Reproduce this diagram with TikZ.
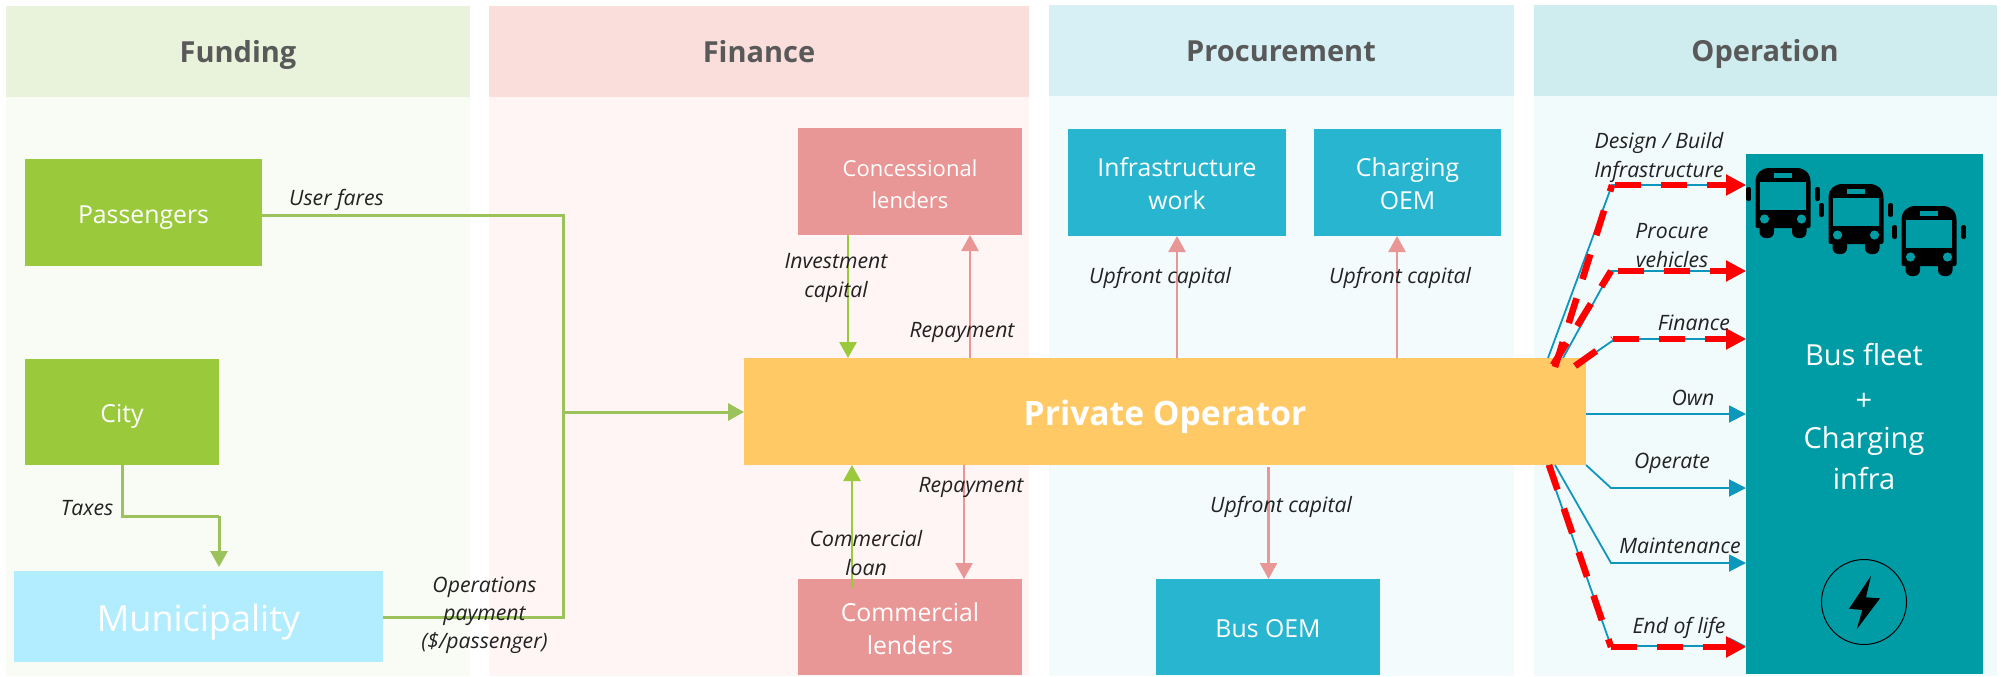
\documentclass[tikz,border=0pt]{standalone}
\usepackage{fontspec}
\setmainfont{Open Sans}
\usetikzlibrary{arrows.meta}
\definecolor{hFund}{HTML}{E9F3DB}\definecolor{bFund}{HTML}{F9FBF5}
\definecolor{hFin}{HTML}{F9DEDC}\definecolor{bFin}{HTML}{FEF5F4}
\definecolor{hProc}{HTML}{D6F0F5}\definecolor{bProc}{HTML}{F3FBFD}
\definecolor{hOp}{HTML}{CFECEE}\definecolor{bOp}{HTML}{F2FBFB}
\definecolor{cGreen}{HTML}{9ACA3C}\definecolor{cPink}{HTML}{E99696}
\definecolor{cTeal}{HTML}{28B5CF}\definecolor{cDark}{HTML}{009CA6}
\definecolor{cOrange}{HTML}{FFC966}\definecolor{cSky}{HTML}{B2EDFF}
\definecolor{lGreen}{HTML}{9BC25B}\definecolor{lBlue}{HTML}{0E97BC}
\definecolor{cHead}{HTML}{595959}\definecolor{cLab}{HTML}{222222}
\newcommand{\capc}[1]{\rule{0pt}{.85em}\raisebox{0pt}[0pt][0pt]{#1}}
\tikzset{
  x=0.5pt,y=-0.5pt,
  sz/.style 2 args={minimum width=#1*0.5pt,minimum height=#2*0.5pt},
  panel/.style={rectangle,inner sep=0pt,outer sep=0pt,draw=none},
  headtext/.style={panel,text=cHead,font=\fontsize{14.5}{17}\selectfont\bfseries},
  actor/.style={panel,text=white,align=center,font=\fontsize{12.4}{16.5}\selectfont},
  lab/.style={inner sep=0pt,outer sep=0pt,text=cLab,align=center,font=\fontsize{10.6}{14.5}\selectfont\itshape},
  gline/.style={draw=lGreen,line width=1.5pt},
  garrow/.style={gline,-{Triangle[length=8pt,width=8.5pt]}},
  barrow/.style={draw=cGreen,line width=1.4pt,-{Triangle[length=8pt,width=8.5pt]}},
  parrow/.style={draw=cPink,line width=1.2pt,-{Triangle[length=8pt,width=8.5pt]}},
  oparrow/.style={draw=lBlue,line width=0.9pt,-{Triangle[length=8.5pt,width=8.5pt]}},
  redline/.style={draw=red,line width=3.3pt,dash pattern=on 13pt off 10pt},
  redarrow/.style={redline,-{Triangle[length=10pt,width=10pt]}},
}
\newcommand{\busicon}[2]{%
  \begin{scope}[shift={(#1,#2)}]
    \fill[black,rounded corners=1pt] (-9.4,19) rectangle (-4.6,33);
    \fill[black,rounded corners=1pt] (59.6,19) rectangle (64.4,33);
    \fill[black,rounded corners=3pt] (4,50) rectangle (18.5,70);
    \fill[black,rounded corners=3pt] (36.5,50) rectangle (51,70);
    \fill[black] (0,14) .. controls (0,5) and (6,0) .. (14,0) -- (41,0) .. controls (49,0) and (55,5) .. (55,14) -- (55,58) .. controls (55,59) and (54,60) .. (53,60) -- (2,60) .. controls (1,60) and (0,59) .. (0,58) -- cycle;
    \fill[cDark] (4.5,14) rectangle (50.5,42);
    \fill[cDark] (18.5,4.5) rectangle (36.5,9.5);
    \fill[cDark] (9,51) circle (4.6);
    \fill[cDark] (46,51) circle (4.6);
  \end{scope}}
\begin{document}
\begin{tikzpicture}
\useasboundingbox (0,0) rectangle (2001,676);
% panels
\node[panel,fill=bFund,sz={464}{580}] (bodyFund) at (238,386) {};
\node[panel,fill=hFund,sz={464}{91}] (headFund) at (238,51.5) {};
\node[panel,fill=bFin,sz={540}{580}] (bodyFin) at (759,386) {};
\node[panel,fill=hFin,sz={540}{91}] (headFin) at (759,51.5) {};
\node[panel,fill=bProc,sz={465}{580}] (bodyProc) at (1281.5,386) {};
\node[panel,fill=hProc,sz={465}{91}] (headProc) at (1281.5,50.5) {};
\node[panel,fill=bOp,sz={463}{580}] (bodyOp) at (1765.5,386) {};
\node[panel,fill=hOp,sz={463}{91}] (headOp) at (1765.5,50.5) {};
\node[headtext] (tFund) at (238,50) {\capc{Funding}};
\node[headtext] (tFin) at (759,50) {\capc{Finance}};
\node[headtext] (tProc) at (1281,49) {\capc{Procurement}};
\node[headtext] (tOp) at (1765,49) {\capc{Operation}};
% boxes
\node[actor,fill=cGreen,sz={237}{107}] (pass) at (143.5,212.5) {\capc{Passengers}};
\node[actor,fill=cGreen,sz={194}{106}] (city) at (122,412) {\capc{City}};
\node[actor,fill=cSky,sz={369}{91},font=\fontsize{18}{20}\selectfont] (muni) at (198.5,616.5) {\capc{Municipality}};
\node[actor,fill=cPink,sz={224}{107}] (conc) at (910,181.5) {};
\node[inner sep=0pt,outer sep=0pt,text=white,align=center,font=\fontsize{11}{16}\selectfont] (conctext) at (910,183.5) {\capc{Concessional}\\\capc{lenders}};
\node[actor,fill=cPink,sz={224}{96}] (comm) at (910,627) {\capc{Commercial}\\\capc{lenders}};
\node[actor,fill=cTeal,sz={218}{107}] (infra) at (1177,182.5) {\capc{Infrastructure}\\\capc{work}};
\node[actor,fill=cTeal,sz={187}{107}] (chg) at (1407.5,182.5) {\capc{Charging}\\\capc{OEM}};
\node[actor,fill=cTeal,sz={224}{96}] (busoem) at (1268,627) {\capc{Bus OEM}};
\node[panel,fill=cOrange,text=white,sz={842}{107},font=\fontsize{16.8}{18}\selectfont\bfseries] (op) at (1165,411.5) {\capc{Private Operator}};
\node[panel,fill=cDark,sz={237}{520}] (fleet) at (1864.5,414) {};
\node[inner sep=0pt,outer sep=0pt,text=white,align=center,font=\fontsize{14.5}{20.7}\selectfont] (fleettext) at (1864,415) {\capc{Bus fleet}\\\raisebox{-2pt}{+}\\Charging\\\capc{infra}};
% icons
\busicon{1755.5}{168}
\busicon{1828.5}{184}
\busicon{1901.5}{206}
\node[circle,draw=black,line width=0.5pt,inner sep=0pt,minimum size=42.5pt] (bolt) at (1864,602) {};
\fill[black] (1871,575.7) -- (1849,608.7) -- (1862.3,610) -- (1856.7,629.3) -- (1880,598.3) -- (1866,597.3) -- cycle;
% funding connectors
\coordinate (j1) at (563,215.5);
\coordinate (j2) at (563,617);
\coordinate (j3) at (563,412);
\draw[gline] (pass.east|-j1) -- (j1) -- (j2) -- (muni.east|-j2);
\draw[garrow] (j3) -- (op.west|-j3);
\coordinate (t1) at (122.5,516);
\coordinate (t2) at (219,516);
\draw[gline] (city.south-|t1) -- (t1) -- (t2);
\coordinate (t3) at (219,567);
\draw[garrow] (t2) -- (t3);
% finance connectors
\coordinate (a1) at (848,0);
\coordinate (a2) at (970,0);
\coordinate (a3) at (964,0);
\coordinate (a4) at (852,588);
\draw[barrow] (conc.south-|a1) -- (op.north-|a1);
\draw[parrow] (op.north-|a2) -- (conc.south-|a2);
\draw[parrow] (op.south-|a3) -- (comm.north-|a3);
\draw[barrow] (a4) -- (op.south-|a4);
% procurement connectors
\coordinate (b1) at (1177,0);
\coordinate (b2) at (1397,0);
\coordinate (b3) at (1268.5,467);
\draw[parrow] (op.north-|b1) -- (infra.south-|b1);
\draw[parrow] (op.north-|b2) -- (chg.south-|b2);
\draw[parrow] (b3) -- (busoem.north-|b3);
% operation connectors
\coordinate (o1s) at (1548,358);\coordinate (o1b) at (1612,185);\coordinate (o1r) at (1555,367);
\coordinate (o2s) at (1563,358);\coordinate (o2b) at (1611,271);\coordinate (o2r) at (1553,365);
\coordinate (o3s) at (1586,359);\coordinate (o3b) at (1615,339);\coordinate (o3r) at (1575,366);
\coordinate (o3c) at (1613,339);
\coordinate (o4) at (1586,414);
\coordinate (o5b) at (1611,488);
\coordinate (o6s) at (1555,465);\coordinate (o6b) at (1611,563);
\coordinate (o7s) at (1547,465);\coordinate (o7b) at (1611,646);\coordinate (o7r) at (1549,465);
\coordinate (o7c) at (1611,647);
\draw[oparrow] (o1s) -- (o1b) -- (fleet.west|-o1b);
\draw[oparrow] (o2s) -- (o2b) -- (fleet.west|-o2b);
\draw[oparrow] (o3s) -- (o3b) -- (fleet.west|-o3b);
\draw[oparrow] (o4) -- (fleet.west|-o4);
\draw[oparrow] (op.south east) -- (o5b) -- (fleet.west|-o5b);
\draw[oparrow] (o6s) -- (o6b) -- (fleet.west|-o6b);
\draw[oparrow] (o7s) -- (o7b) -- (fleet.west|-o7b);
\draw[redline] (o1r) -- (o1b);
\draw[redarrow,dash phase=21.5pt] (o1b) -- (fleet.west|-o1b);
\draw[redline] (o2r) -- (o2b);
\draw[redarrow,dash phase=19.5pt] (o2b) -- (fleet.west|-o2b);
\draw[redline] (o3r) -- (o3c);
\draw[redarrow] (o3c) -- (fleet.west|-o3c);
\draw[redline] (o7r) -- (o7c);
\draw[redarrow] (o7c) -- (fleet.west|-o7c);
% labels
\node[lab] (l1) at (336.5,196) {\capc{User fares}};
\node[lab] (l2) at (87,506) {\capc{Taxes}};
\node[lab,font=\fontsize{10.6}{14}\selectfont\itshape] (l3) at (484.5,611.5) {\capc{Operations}\\payment\\\capc{(\$/passenger)}};
\node[lab] (l4) at (836,274) {\capc{Investment}\\\capc{capital}};
\node[lab] (l5) at (962,328) {\capc{Repayment}};
\node[lab] (l6) at (971,483) {\capc{Repayment}};
\node[lab] (l7) at (866,552) {\capc{Commercial}\\\capc{loan}};
\node[lab] (l8) at (1160,274) {\capc{Upfront capital}};
\node[lab] (l9) at (1400,274) {\capc{Upfront capital}};
\node[lab] (l10) at (1281,503) {\capc{Upfront capital}};
\node[lab] (l11) at (1659,153.5) {\capc{Design / Build}\\\capc{Infrastructure}};
\node[lab] (l12) at (1672,243.5) {\capc{Procure}\\\capc{vehicles}};
\node[lab] (l13) at (1694,321) {\capc{Finance}};
\node[lab] (l14) at (1693,396) {\capc{Own}};
\node[lab] (l15) at (1672,459) {\capc{Operate}};
\node[lab] (l16) at (1680,544) {\capc{Maintenance}};
\node[lab] (l17) at (1679,624) {\capc{End of life}};
\end{tikzpicture}
\end{document}
